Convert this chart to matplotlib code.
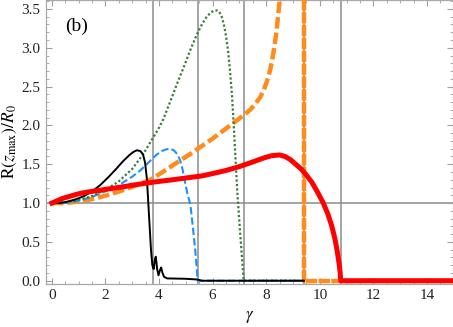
import matplotlib
matplotlib.use('Agg')
import matplotlib.pyplot as plt
from matplotlib.ticker import MultipleLocator, FormatStrFormatter

plt.rcParams['font.family'] = ['Liberation Serif', 'DejaVu Serif']
plt.rcParams['mathtext.fontset'] = 'stix'

# vertical guide lines (gamma values) and horizontal reference
vlines_x = [3.79, 5.44, 7.16, 9.41, 10.78]
hline_y = 1.0

# black solid curve
black_x = [0, 0.3, 0.6, 0.9, 1.2, 1.5, 1.8, 2.1, 2.4, 2.66, 2.9, 3.05, 3.18, 3.3, 3.4, 3.48,
           3.55, 3.6, 3.65, 3.7, 3.75, 3.8, 3.85, 3.88, 3.93, 3.98, 4.04, 4.08, 4.13, 4.19,
           4.3, 5.0, 5.45, 5.6, 9.41]
black_y = [1.0, 1.0, 1.02, 1.05, 1.09, 1.15, 1.23, 1.33, 1.44, 1.54, 1.62, 1.66, 1.68, 1.67, 1.63, 1.52,
           1.3, 1.0, 0.7, 0.4, 0.2, 0.15, 0.28, 0.31, 0.15, 0.07, 0.14, 0.17, 0.1, 0.05,
           0.03, 0.025, 0.015, 0.0, 0.0]

# blue dashed curve
blue_x = [0, 0.5, 1.0, 1.5, 2.0, 2.5, 3.0, 3.3, 3.6, 3.9, 4.1, 4.25, 4.4, 4.55, 4.68, 4.79,
          4.88, 4.97, 5.06, 5.17, 5.26, 5.35, 5.41, 5.44, 9.41]
blue_y = [1.0, 1.0, 1.03, 1.08, 1.15, 1.23, 1.34, 1.42, 1.52, 1.62, 1.67, 1.69, 1.7, 1.68, 1.63, 1.55,
          1.43, 1.27, 1.12, 0.98, 0.7, 0.4, 0.15, 0.0, 0.0]

# green dotted curve
green_x = [0, 0.5, 1.0, 1.5, 2.0, 2.5, 3.0, 3.41, 3.67, 4.0, 4.16, 4.41, 4.7, 4.91, 5.2, 5.41,
           5.6, 5.78, 5.95, 6.08, 6.17, 6.25, 6.33, 6.42, 6.5, 6.58, 6.65, 6.72, 6.78, 6.85,
           6.92, 6.98, 7.03, 7.1, 7.16, 9.41]
green_y = [1.0, 1.01, 1.04, 1.09, 1.17, 1.28, 1.44, 1.63, 1.78, 1.97, 2.08, 2.3, 2.56, 2.74, 3.0, 3.17,
           3.3, 3.4, 3.46, 3.48, 3.48, 3.46, 3.41, 3.3, 3.15, 2.95, 2.7, 2.4, 2.05, 1.6,
           1.15, 0.85, 0.6, 0.28, 0.0, 0.0]

# orange thick dashed curve (diverges, then returns at 9.41)
orange_x = [0, 0.5, 1.0, 1.5, 2.06, 2.6, 3.0, 3.3, 3.67, 4.0, 4.4, 4.79, 5.16, 5.45, 6.0, 6.5,
            7.15, 7.4, 7.6, 7.77, 7.9, 8.0, 8.1, 8.2, 8.3, 8.38, 8.44, 8.5, 8.56]
orange_y = [1.0, 1.0, 1.02, 1.05, 1.1, 1.16, 1.21, 1.25, 1.3, 1.37, 1.46, 1.55, 1.63, 1.7, 1.83, 1.96,
            2.13, 2.2, 2.28, 2.36, 2.45, 2.54, 2.65, 2.8, 3.0, 3.2, 3.4, 3.6, 3.8]
orange_tail_x = [9.41, 9.41, 15.0]
orange_tail_y = [3.8, 0.0, 0.0]

# red thick solid curve
red_x = [0, 0.2, 0.4, 0.6, 0.8, 1.0, 1.3, 1.7, 2.06, 2.5, 3.0, 3.79, 4.5, 5.16, 5.6, 6.0,
         6.5, 7.0, 7.5, 7.9, 8.2, 8.5, 8.7, 8.9, 9.1, 9.3, 9.5, 9.7, 9.9, 10.13, 10.3,
         10.45, 10.57, 10.65, 10.72, 10.76, 10.78, 15.0]
red_y = [1.0, 1.03, 1.06, 1.08, 1.1, 1.12, 1.14, 1.16, 1.18, 1.2, 1.23, 1.27, 1.3, 1.33, 1.35, 1.38,
         1.42, 1.47, 1.53, 1.58, 1.61, 1.62, 1.6, 1.56, 1.5, 1.44, 1.36, 1.27, 1.15, 1.0, 0.86,
         0.7, 0.53, 0.38, 0.22, 0.1, 0.0, 0.0]

fig = plt.figure(figsize=(4.53, 3.27), dpi=100)
ax = fig.add_axes([0.102, 0.132, 0.898, 0.868])

for xv in vlines_x:
    ax.axvline(xv, color='#8c8c8c', lw=1.1, zorder=1)
ax.axhline(hline_y, color='#8c8c8c', lw=1.1, zorder=1)

ax.plot(black_x, black_y, color='black', lw=1.4, zorder=5)
ax.plot(blue_x, blue_y, color='#1e8fff', lw=1.5, dashes=(3.5, 1.5), zorder=4)
ax.plot(green_x, green_y, color='#3a7d3a', lw=1.6, dashes=(1.0, 1.0), zorder=4)
ax.plot(orange_x, orange_y, color='#ff8c1a', lw=3.2, dashes=(2.6, 0.9), zorder=3)
ax.plot(orange_tail_x, orange_tail_y, color='#ff8c1a', lw=3.2, dashes=(2.6, 0.3), zorder=3)
ax.plot(red_x, red_y, color='#ff0000', lw=3.6, zorder=6)

ax.text(0.93, 3.27, '(b)', fontsize=14, ha='center', va='center')

ax.set_xlim(-0.21, 14.97)
ax.set_ylim(-0.04, 3.615)
ax.xaxis.set_major_locator(MultipleLocator(2))
ax.xaxis.set_minor_locator(MultipleLocator(0.5))
ax.yaxis.set_major_locator(MultipleLocator(0.5))
ax.yaxis.set_minor_locator(MultipleLocator(0.1))
ax.yaxis.set_major_formatter(FormatStrFormatter('%.1f'))

ax.tick_params(which='both', direction='in', top=True, right=True, color='#a0a0a0',
               labelsize=11, labelcolor='#222222')
ax.tick_params(which='major', length=4, width=0.8, pad=4)
ax.tick_params(which='minor', length=2.3, width=0.6)
for s in ax.spines.values():
    s.set_color('#a8a8a8')
    s.set_linewidth(0.9)

ax.set_xlabel(r'$\gamma$', fontsize=12, labelpad=5)
ax.set_ylabel(r'$\mathrm{R}(z_{\mathrm{max}})/R_0$', fontsize=12.5, labelpad=2)

fig.savefig('out.png', dpi=100)
